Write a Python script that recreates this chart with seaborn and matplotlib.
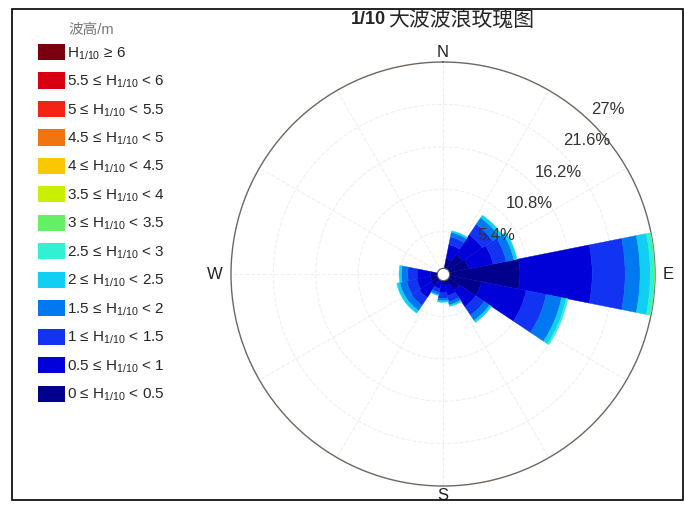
import numpy as np
import matplotlib
matplotlib.use("Agg")
import matplotlib.pyplot as plt
import seaborn as sns
from matplotlib.patches import Patch, Rectangle

# Data: frequency (%) per direction sector, stacked by H1/10 class
directions = ['N', 'NNE', 'NE', 'ENE', 'E', 'ESE', 'SE', 'SSE',
              'S', 'SSW', 'SW', 'WSW', 'W', 'WNW', 'NW', 'NNW']
dir_angles = np.arange(16) * 22.5

h_0_05 = [0.2, 2.0, 3.0, 3.3, 9.8, 5.0, 2.5, 1.5, 1.3, 1.0, 1.8, 1.6, 1.6, 0.3, 0.2, 0.2]
h_05_1 = [0.2, 1.8, 3.0, 3.2, 9.2, 5.8, 2.5, 1.3, 1.1, 0.9, 1.8, 1.8, 1.7, 0.2, 0.1, 0.1]
h_1_15 = [0.1, 1.0, 1.6, 1.7, 4.2, 2.6, 1.3, 0.8, 0.7, 0.5, 1.2, 1.3, 1.2, 0.1, 0.1, 0.1]
h_15_2 = [0.0, 0.6, 1.0, 1.0, 1.9, 2.0, 0.8, 0.4, 0.3, 0.3, 0.8, 0.9, 0.8, 0.0, 0.0, 0.0]
h_2_25 = [0.0, 0.2, 0.4, 0.4, 1.3, 0.6, 0.3, 0.2, 0.2, 0.1, 0.4, 0.4, 0.3, 0.0, 0.0, 0.0]
h_25_3 = [0.0, 0.0, 0.0, 0.0, 0.5, 0.2, 0.0, 0.0, 0.0, 0.0, 0.0, 0.0, 0.0, 0.0, 0.0, 0.0]
h_3_35 = [0.0, 0.0, 0.0, 0.0, 0.1, 0.0, 0.0, 0.0, 0.0, 0.0, 0.0, 0.0, 0.0, 0.0, 0.0, 0.0]
h_zero = [0.0] * 16  # classes above 3.5 m: no occurrences

bins = [h_0_05, h_05_1, h_1_15, h_15_2, h_2_25, h_25_3, h_3_35,
        h_zero, h_zero, h_zero, h_zero, h_zero, h_zero]
edges = ['0', '0.5', '1', '1.5', '2', '2.5', '3', '3.5', '4', '4.5', '5', '5.5', '6']
colors = ['#00008c', '#0000d8', '#1234f2', '#0078f0', '#10cff2', '#34f0d2',
          '#64f064', '#c8f000', '#f8c800', '#f07410', '#f42414', '#d80010', '#7a0010']

ring_ticks = [5.4, 10.8, 16.2, 21.6, 27]
ring_labels = ['5.4%', '10.8%', '16.2%', '21.6%', '27%']

sns.set_theme(style="white")
plt.rcParams['font.family'] = ['Liberation Sans', 'Noto Sans CJK SC', 'DejaVu Sans']
plt.rcParams['axes.unicode_minus'] = False

fig = plt.figure(figsize=(6.84, 5.05), dpi=100)
ax = fig.add_axes([0.3377, 0.0376, 0.6199, 0.8396], projection='polar')
ax.set_theta_zero_location('N')
ax.set_theta_direction(-1)

theta = np.deg2rad(dir_angles)
width = np.deg2rad(22.5)
bottom = np.zeros(16)
for vals, c in zip(bins, colors):
    vals = np.array(vals)
    keep = vals > 0
    if keep.any():
        ax.bar(theta[keep], vals[keep], width=width, bottom=bottom[keep], color=c,
               edgecolor=c, linewidth=0.3, align='center', zorder=3)
    bottom += vals

ax.set_ylim(0, 27)
ax.set_yticks(ring_ticks[:-1])
ax.set_yticklabels([])
ax.set_xticks(np.deg2rad(np.arange(0, 360, 30)))
ax.set_xticklabels([])
ax.grid(True, color='#efefef', linestyle='--', linewidth=0.8)
ax.spines['polar'].set_color('#6e6660')
ax.spines['polar'].set_linewidth(1.0)

# center hole
ax.plot(0, 0, 'o', ms=9, mfc='white', mec='#555555', mew=0.8, zorder=5)

# ring labels
for r, lab in zip(ring_ticks, ring_labels):
    ax.text(np.deg2rad(42), r + 1.2, lab, ha='left', va='center', fontsize=12,
            color='#333333', zorder=6)

# compass labels
for ang, lab, r in [(0, 'N', 28.2), (90, 'E', 28.7), (180, 'S', 28.2), (270, 'W', 29.0)]:
    ax.text(np.deg2rad(ang), r, lab, ha='center', va='center', fontsize=12, color='#222222')

# title
fig.text(386 / 684, 1 - 20 / 505, '1/10', ha='right', va='center', fontsize=13, fontweight='bold')
fig.text(388 / 684, 1 - 20 / 505, '大波波浪玫瑰图', ha='left', va='center', fontsize=15)

# legend
handles = []
for i in range(len(colors) - 1, -1, -1):
    if i == len(colors) - 1:
        lab = r'$\mathregular{H_{1/10}}$' + ' ≥ ' + edges[i]
    else:
        lab = edges[i] + ' ≤ ' + r'$\mathregular{H_{1/10}}$' + ' < ' + edges[i + 1]
    handles.append(Patch(facecolor=colors[i], edgecolor='none', label=lab))
leg = fig.legend(handles=handles, loc='upper left', bbox_to_anchor=(38 / 684, 1 - 44 / 505),
                 frameon=False, fontsize=11,
                 handlelength=1.75, handleheight=1.25, handletextpad=0.15,
                 labelspacing=0.71, borderpad=0, borderaxespad=0)
fig.text(68 / 684, 1 - 30 / 505, '波高/m', ha='left', va='center', fontsize=10.5, color='#777777')

# outer frame
fig.patches.append(Rectangle((12 / 684, 1 - 500 / 505), 671 / 684, 491 / 505,
                             transform=fig.transFigure, fill=False,
                             edgecolor='black', linewidth=1.2))

fig.savefig('out.png', dpi=100)
